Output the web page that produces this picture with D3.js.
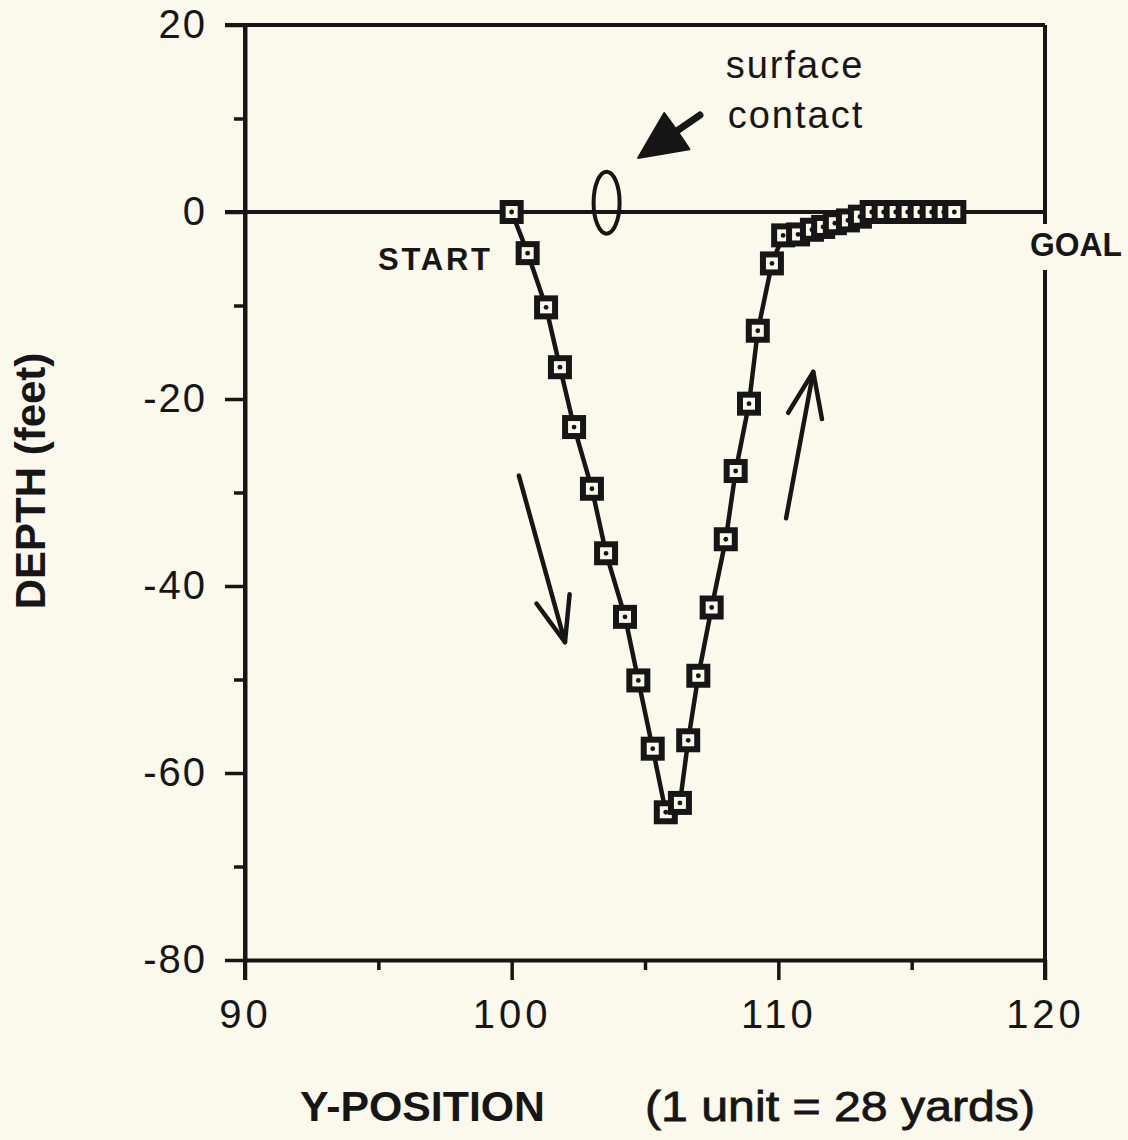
<!DOCTYPE html>
<html>
<head>
<meta charset="utf-8">
<script src="https://cdn.jsdelivr.net/npm/d3@7/dist/d3.min.js"></script>
<style>
  html, body { margin: 0; padding: 0; background: #fbf9ec; }
  svg { display: block; }
</style>
</head>
<body>
<div id="chart"></div>
<script>
// track of the run: Y-position vs depth
const yPosition = [100.0, 100.6, 101.29, 101.81, 102.34, 103.01, 103.54, 104.25, 104.75, 105.29, 105.78,
  106.31, 106.62, 107.0, 107.5, 108.03, 108.4, 108.9, 109.23, 109.76,
  110.18, 110.74, 111.26, 111.68, 112.12, 112.61, 113.06,
  113.5, 113.95, 114.4, 114.85, 115.3, 115.75, 116.2, 116.6];
const depthFeet = [0, -4.4, -10.2, -16.6, -23.0, -29.6, -36.5, -43.3, -50.1, -57.4, -64.2,
  -63.2, -56.5, -49.6, -42.3, -35.0, -27.7, -20.5, -12.7, -5.5,
  -2.5, -2.4, -1.9, -1.6, -1.2, -0.9, -0.5,
  0, 0, 0, 0, 0, 0, 0, 0];

const xTicks = [90, 95, 100, 105, 110, 115, 120];
const xTickLabels = [90, 100, 110, 120];
const yTicks = [20, 10, 0, -10, -20, -30, -40, -50, -60, -70, -80];
const yTickLabels = [20, 0, -20, -40, -60, -80];

// annotations, in data units
const surfaceMark = [103.56, 1.0];
const surfaceArrow = { tail: [107.06, 10.37], tip: [104.74, 5.78] };
const downArrow = { tail: [100.27, -28.2], tip: [102.0, -46.0] };
const upArrow = { tail: [110.29, -32.76], tip: [111.31, -17.1] };

const bg = '#fbf9ec';
const ink = '#161616';
const width = 1128, height = 1140;
const m = { left: 245, right: 1045, top: 25, bottom: 960 };

const svg = d3.select('#chart').append('svg')
  .attr('width', width)
  .attr('height', height)
  .style('font-family', '"Liberation Sans", Arial, sans-serif');

svg.append('rect').attr('width', width).attr('height', height).attr('fill', bg);

const x = d3.scaleLinear().domain([90, 120]).range([m.left, m.right]);
const y = d3.scaleLinear().domain([-80, 20]).range([m.bottom, m.top]);

// X axis
svg.append('g')
  .attr('transform', `translate(0,${m.bottom})`)
  .call(d3.axisBottom(x).tickValues(xTicks).tickSize(10).tickSizeOuter(0)
    .tickFormat(d => xTickLabels.includes(d) ? d : ''))
  .call(g => g.select('.domain').attr('stroke', ink).attr('stroke-width', 4))
  .call(g => g.selectAll('.tick line').attr('stroke', ink).attr('stroke-width', 3.5)
    .attr('y2', d => d % 10 === 0 ? 20 : 10))
  .call(g => g.selectAll('.tick text')
    .attr('y', 40).attr('fill', ink)
    .style('font-size', '40px').style('letter-spacing', '4px'));

// Y axis
svg.append('g')
  .attr('transform', `translate(${m.left},0)`)
  .call(d3.axisLeft(y).tickValues(yTicks).tickSize(10).tickSizeOuter(0)
    .tickFormat(d => yTickLabels.includes(d) ? d : ''))
  .call(g => g.select('.domain').attr('stroke', ink).attr('stroke-width', 4))
  .call(g => g.selectAll('.tick line').attr('stroke', ink).attr('stroke-width', 3.5)
    .attr('x2', d => d % 20 === 0 ? -20 : -11))
  .call(g => g.selectAll('.tick text')
    .attr('x', -38).attr('fill', ink)
    .style('font-size', '40px').style('letter-spacing', '2px'));

// frame: top line, zero line, sides
svg.append('line')
  .attr('x1', m.left - 20).attr('x2', m.right).attr('y1', y(20)).attr('y2', y(20))
  .attr('stroke', ink).attr('stroke-width', 4);
svg.append('line')
  .attr('x1', m.left - 20).attr('x2', m.right).attr('y1', y(0)).attr('y2', y(0))
  .attr('stroke', ink).attr('stroke-width', 4);
svg.append('line')
  .attr('x1', m.right).attr('x2', m.right).attr('y1', y(20)).attr('y2', m.bottom + 20)
  .attr('stroke', ink).attr('stroke-width', 4);
svg.append('line')
  .attr('x1', m.left).attr('x2', m.left).attr('y1', y(20)).attr('y2', m.bottom + 20)
  .attr('stroke', ink).attr('stroke-width', 4);

// series
const pts = yPosition.map((v, i) => [v, depthFeet[i]]);
svg.append('path')
  .datum(pts)
  .attr('fill', 'none')
  .attr('stroke', ink)
  .attr('stroke-width', 4.5)
  .attr('d', d3.line().x(d => x(d[0])).y(d => y(d[1])));

const mk = svg.append('g').selectAll('g').data(pts).join('g')
  .attr('transform', d => `translate(${x(d[0])},${y(d[1])})`);
mk.append('rect')
  .attr('x', -9).attr('y', -9).attr('width', 18).attr('height', 18)
  .attr('fill', bg).attr('stroke', ink).attr('stroke-width', 6);
mk.append('circle').attr('r', 2.4).attr('fill', ink);

// annotations
function head(a, len, ang) {
  const tx = x(a.tip[0]), ty = y(a.tip[1]);
  const bx = x(a.tail[0]) - tx, by = y(a.tail[1]) - ty;
  const t = Math.atan2(by, bx), r = ang * Math.PI / 180;
  return [[tx + len * Math.cos(t - r), ty + len * Math.sin(t - r)], [tx, ty],
          [tx + len * Math.cos(t + r), ty + len * Math.sin(t + r)]];
}

[downArrow, upArrow].forEach(a => {
  svg.append('line')
    .attr('x1', x(a.tail[0])).attr('y1', y(a.tail[1]))
    .attr('x2', x(a.tip[0])).attr('y2', y(a.tip[1]))
    .attr('stroke', ink).attr('stroke-width', 4.5).attr('stroke-linecap', 'round');
  svg.append('path')
    .attr('d', d3.line()(head(a, 48, 21)))
    .attr('fill', 'none').attr('stroke', ink).attr('stroke-width', 4.5)
    .attr('stroke-linecap', 'round').attr('stroke-linejoin', 'round');
});

svg.append('line')
  .attr('x1', x(surfaceArrow.tail[0])).attr('y1', y(surfaceArrow.tail[1]))
  .attr('x2', x(surfaceArrow.tip[0]) + 20).attr('y2', y(surfaceArrow.tip[1]) - 14)
  .attr('stroke', ink).attr('stroke-width', 7).attr('stroke-linecap', 'round');
const sh = head(surfaceArrow, 52, 25);
svg.append('path')
  .attr('d', `M${sh[0]}L${sh[1]}L${sh[2]}Q${(sh[0][0] + sh[2][0]) / 2 + 3},${(sh[0][1] + sh[2][1]) / 2 + 3} ${sh[0]}Z`)
  .attr('fill', ink).attr('stroke', ink).attr('stroke-width', 2).attr('stroke-linejoin', 'round');

svg.append('ellipse')
  .attr('cx', x(surfaceMark[0])).attr('cy', y(surfaceMark[1]))
  .attr('rx', 13).attr('ry', 31)
  .attr('fill', 'none').attr('stroke', ink).attr('stroke-width', 4);

svg.append('text').attr('x', 795).attr('y', 78).attr('text-anchor', 'middle')
  .attr('fill', ink).style('font-size', '38px').style('letter-spacing', '2px').text('surface');
svg.append('text').attr('x', 796).attr('y', 128).attr('text-anchor', 'middle')
  .attr('fill', ink).style('font-size', '38px').style('letter-spacing', '2px').text('contact');

svg.append('text').attr('x', 378).attr('y', 270)
  .attr('fill', ink).style('font-size', '31px').style('font-weight', 'bold')
  .attr('textLength', 112).text('START');

svg.append('rect').attr('x', 1028).attr('y', 224).attr('width', 100).attr('height', 46).attr('fill', bg);
svg.append('text').attr('x', 1030).attr('y', 256)
  .attr('fill', ink).style('font-size', '33px').style('font-weight', 'bold')
  .attr('textLength', 92).attr('lengthAdjust', 'spacingAndGlyphs').text('GOAL');

// axis titles
svg.append('text').attr('x', 300).attr('y', 1121)
  .attr('fill', ink).style('font-size', '42px').style('font-weight', 'bold')
  .attr('textLength', 245).attr('lengthAdjust', 'spacingAndGlyphs').text('Y-POSITION');
svg.append('text').attr('x', 645).attr('y', 1121)
  .attr('fill', ink).attr('stroke', ink).attr('stroke-width', 0.8)
  .style('font-size', '42px')
  .attr('textLength', 390).attr('lengthAdjust', 'spacingAndGlyphs').text('(1 unit = 28 yards)');
svg.append('text')
  .attr('transform', 'translate(45,481) rotate(-90)')
  .attr('text-anchor', 'middle')
  .attr('fill', ink).style('font-size', '42px').style('font-weight', 'bold')
  .text('DEPTH (feet)');
</script>
</body>
</html>
